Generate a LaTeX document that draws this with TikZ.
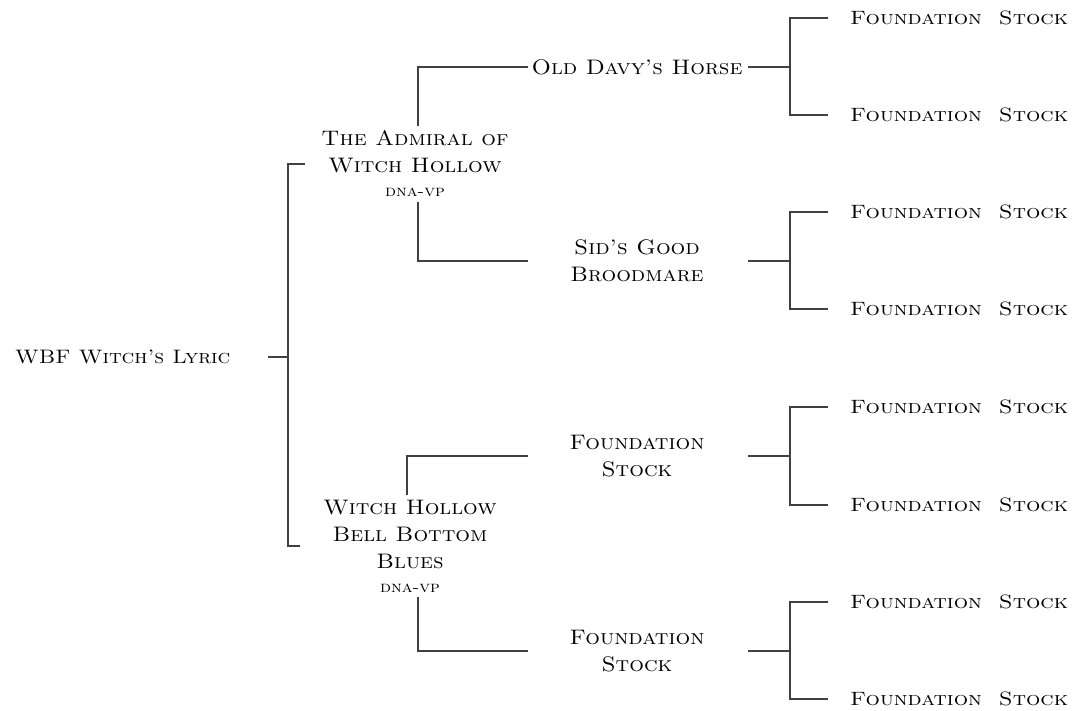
\documentclass[tikz,border=0pt]{standalone}
\usepackage{fontspec}
\setmainfont{lmroman10-regular.otf}[SmallCapsFont=lmromancaps10-regular.otf, FakeStretch=1.1]
\newfontfamily\stockfont{lmroman10-regular.otf}[SmallCapsFont=lmromancaps10-regular.otf, FakeStretch=1.17]
\usetikzlibrary{positioning}

\newcommand{\widespace}{\spaceskip=17pt plus 0pt minus 0pt\relax}
\tikzset{
  horse/.style={font=\fontsize{21}{27}\selectfont\scshape, align=center, inner xsep=0pt, inner ysep=5pt},
  sire/.style={horse, font=\fontsize{19.5}{27}\selectfont\scshape},
  stock/.style={font=\stockfont\fontsize{19.3}{22}\selectfont\scshape, inner sep=0pt},
  line/.style={draw=black!75, line width=1.3pt},
}
\newcommand{\dnavp}{\\[-3pt]{\fontsize{16}{16}\selectfont dna-vp}}

\begin{document}
\begin{tikzpicture}[x=1pt,y=-1pt]
      \useasboundingbox (0,0) rectangle (1077,710);
      \draw
        (15,357) node[sire,anchor=west] (lyric){WBF Witch's Lyric}
        (415,164) node[horse] (admiral){The Admiral of\\Witch Hollow\dnavp}
        (410,546) node[horse] (bellbottom){Witch Hollow\\Bell Bottom\\Blues\dnavp}
        (637,67) node[horse] (davy){Old Davy's Horse}
        (637,261) node[horse] (sid){Sid's Good\\Broodmare}
        (637,456) node[horse] (found1){Foundation\\Stock}
        (637,651) node[horse] (found2){Foundation\\Stock};
      \foreach \i/\y in {1/18,2/115,3/212,4/309,5/407,6/505,7/602,8/699}
        \node[stock,anchor=west] (fs\i) at (850,\y) {\widespace Foundation Stock};
      % columns of the connectors
      \coordinate (lyricout) at (268,0);
      \coordinate (rootspine) at (288,0);
      \coordinate (tickA) at (305,0);
      \coordinate (tickB) at (300,0);
      \coordinate (incol) at (528,0);
      \coordinate (outcol) at (748,0);
      \coordinate (spine) at (790,0);
      \begin{scope}[line]
        \draw (lyric -| lyricout) -- (lyric -| rootspine);
        \draw (admiral -| tickA) -| (lyric -| rootspine) |- (bellbottom -| tickB);
        \draw ([xshift=3pt]admiral.north) |- (davy -| incol);
        \draw ([xshift=3pt]admiral.south) |- (sid -| incol);
        \draw ([xshift=-3pt]bellbottom.north) |- (found1 -| incol);
        \draw ([xshift=8pt]bellbottom.south) |- (found2 -| incol);
        \foreach \p/\a/\b in {davy/1/2,sid/3/4,found1/5/6,found2/7/8}
          \draw (\p -| outcol) -- (\p -| spine)
                ([xshift=-22pt]fs\a.west) -| (\p -| spine) |- ([xshift=-22pt]fs\b.west);
      \end{scope}
    \end{tikzpicture}
\end{document}
